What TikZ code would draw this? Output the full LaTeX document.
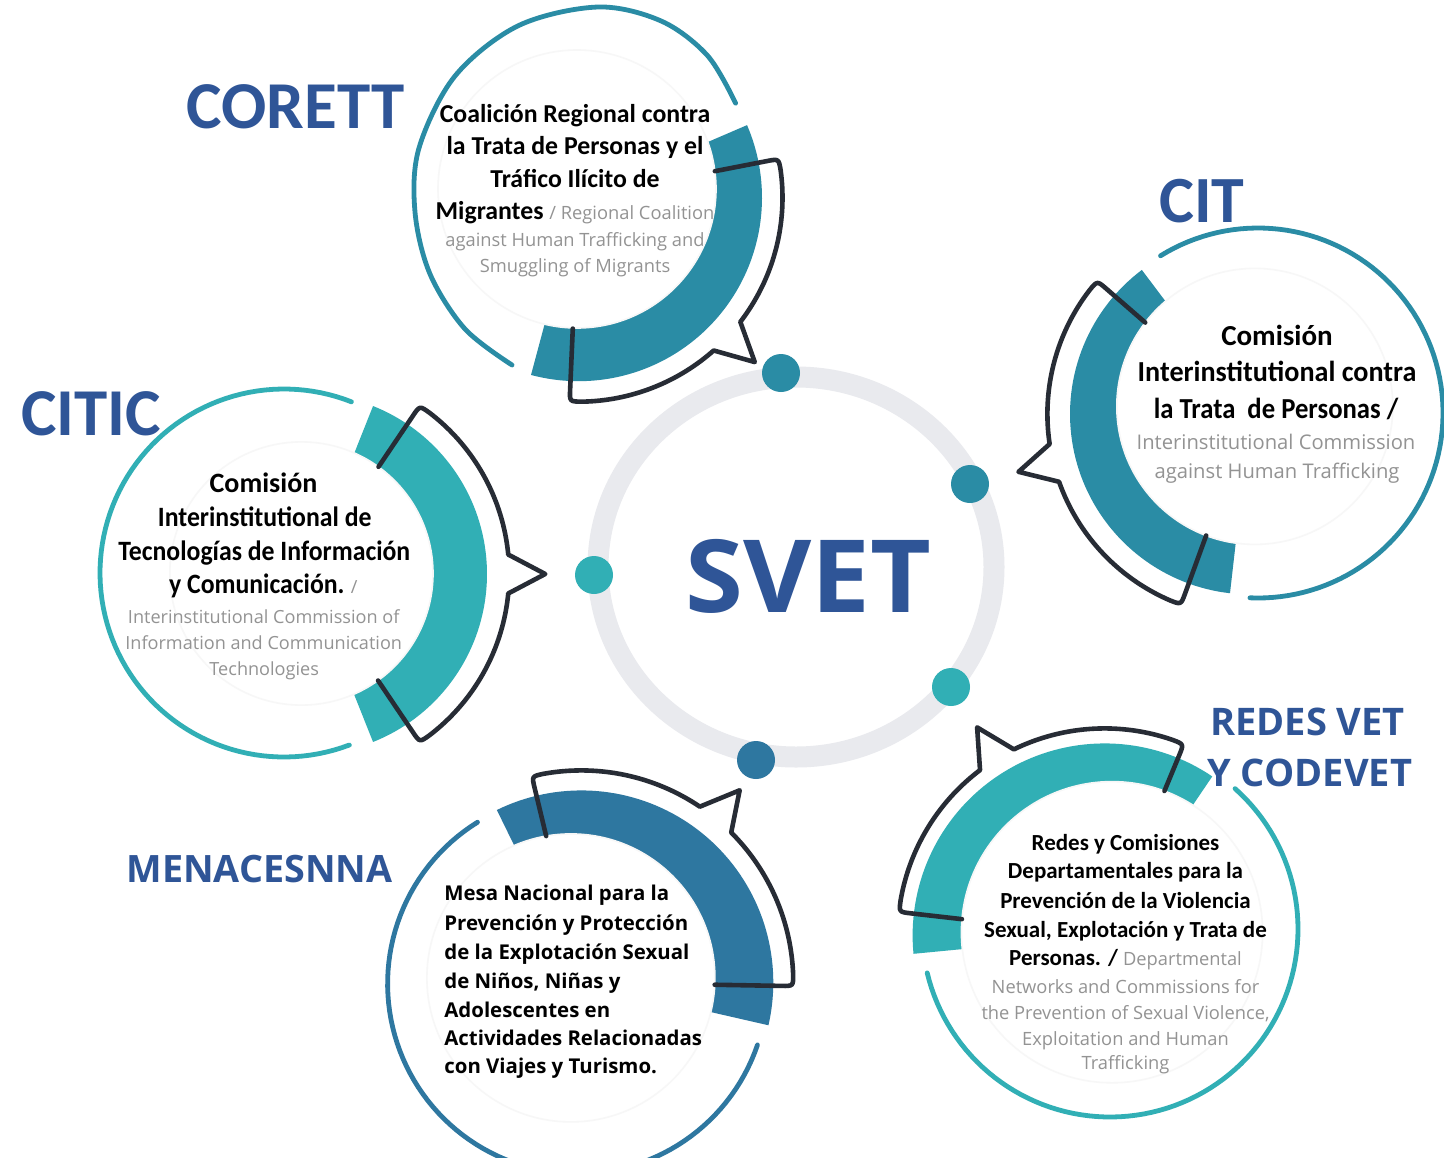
\documentclass[tikz,border=0pt]{standalone}
\usepackage{fontspec}
\usepackage{graphicx}
\setmainfont{Carlito}
\newfontfamily\osans{Open Sans}

\definecolor{tealA}{HTML}{2A8CA5}
\definecolor{tealB}{HTML}{31AFB5}
\definecolor{steel}{HTML}{2E77A0}
\definecolor{ink}{HTML}{272C35}
\definecolor{ringgray}{HTML}{E9EAEE}
\definecolor{titleblue}{HTML}{2F5597}
\definecolor{softgray}{HTML}{939393}

% font set-ups for the body texts
\newcommand{\fCorB}{\normalfont\fontsize{12.9}{15}\selectfont\bfseries}
\newcommand{\fCorG}{\normalfont\osans\fontsize{9.15}{11}\selectfont\color{softgray}}
\newcommand{\fCitB}{\normalfont\fontsize{14.5}{17}\selectfont\bfseries}
\newcommand{\fCitG}{\normalfont\osans\fontsize{10.1}{12}\selectfont\color{softgray}}
\newcommand{\fTicB}{\normalfont\fontsize{14}{17}\selectfont\bfseries}
\newcommand{\fTicG}{\normalfont\osans\fontsize{9.05}{11}\selectfont\color{softgray}}
\newcommand{\fMenB}{\normalfont\osans\fontsize{10.2}{12}\selectfont\bfseries}
\newcommand{\fRedB}{\normalfont\fontsize{11.5}{14}\selectfont\bfseries}
\newcommand{\fRedG}{\normalfont\osans\fontsize{9.15}{11}\selectfont\color{softgray}}

% filled sector: colour, cx, cy, radius, start angle, end angle
\newcommand{\ringsector}[6]{%
  \fill[#1] (#2,#3) -- plot[domain=#5:#6, samples=72] ({#2+#4*cos(\x)},{#3-#4*sin(\x)}) -- cycle;}
% thin circular arc: colour, cx, cy, radius, start angle, end angle
\newcommand{\ringarc}[6]{%
  \draw[thinarc,#1] plot[domain=#5:#6, samples=90] ({#2+#4*cos(\x)},{#3-#4*sin(\x)});}
% speech-bubble outline: cx, cy, inner radius (first end), bubble radius,
% first angle, pointer angle, last angle, pointer tip radius, inner radius (last end)
\newcommand{\speechoutline}[9]{%
  \pgfmathsetmacro{\sgn}{(#7>#5)?1:-1}%
  \pgfmathsetmacro{\dl}{12/#4*180/pi}%
  \pgfmathsetmacro{\aA}{#5+(\sgn)*\dl}%
  \pgfmathsetmacro{\aB}{#6-(\sgn)*5.5}%
  \pgfmathsetmacro{\aC}{#6+(\sgn)*5.5}%
  \pgfmathsetmacro{\aD}{#7-(\sgn)*\dl}%
  \pgfmathsetmacro{\Rc}{#4-12}%
  \draw[bubble] ({#1+#3*cos(#5)},{#2-#3*sin(#5)})
    -- ({#1+\Rc*cos(#5)},{#2-\Rc*sin(#5)})
    .. controls ({#1+#4*cos(#5)},{#2-#4*sin(#5)}) .. ({#1+#4*cos(\aA)},{#2-#4*sin(\aA)})
    -- plot[domain=\aA:\aB, samples=40] ({#1+#4*cos(\x)},{#2-#4*sin(\x)})
    -- ({#1+#8*cos(#6)},{#2-#8*sin(#6)})
    -- plot[domain=\aC:\aD, samples=40] ({#1+#4*cos(\x)},{#2-#4*sin(\x)})
    .. controls ({#1+#4*cos(#7)},{#2-#4*sin(#7)}) .. ({#1+\Rc*cos(#7)},{#2-\Rc*sin(#7)})
    -- ({#1+#9*cos(#7)},{#2-#9*sin(#7)});}

\begin{document}
\begin{tikzpicture}[x=0.5pt,y=-0.5pt,
  thinarc/.style={line width=2.4pt, line cap=round},
  bubble/.style={draw=ink, line width=2.3pt, line join=round, line cap=round},
  disk/.style={circle, fill=white, draw=black!3, line width=0.8pt, inner sep=0pt},
  svdot/.style={circle, inner sep=0pt, minimum size=19pt},
  lbl/.style={inner sep=0pt, anchor=base, text=titleblue},
  txt/.style={inner sep=0pt, anchor=base, text=black},
  txtl/.style={inner sep=0pt, anchor=base west, text=black}]

\useasboundingbox (0,0) rectangle (1444,1157);
\fill[white] (0,0) rectangle (1444,1157);

% central ring
\draw[ringgray, line width=10.5pt] (796,567) ellipse[x radius=198, y radius=190];

% ---------- CORETT ----------
\ringsector{tealA}{578.5}{197.7}{183.5}{-105}{23.3}
\node[disk, minimum size=139pt] (corett-disk) at (577,189) {};
\draw[thinarc, tealA] plot[smooth, tension=0.55] coordinates {(512,365) (465,329) (430,274) (415,212) (419,148) (455,76) (518.5,25.6) (598,7) (661.6,21.2) (707.6,55.7) (735.6,103.2)};
\speechoutline{578.5}{197.7}{138.9}{204}{11}{-43}{-92.5}{241}{131}

% ---------- CIT ----------
\ringsector{tealA}{1250.4}{414}{180.4}{127}{263.5}
\node[disk, minimum size=138pt] (cit-disk) at (1254.8,406.4) {};
\ringarc{tealA}{1258}{413}{185}{121.8}{-92.5}
\speechoutline{1250.4}{414}{139.4}{203}{139}{194}{250}{239}{129.3}

% ---------- CITIC ----------
\ringsector{tealB}{306.2}{574}{180.8}{-68.3}{68.3}
\node[disk, minimum size=131.6pt] (citic-disk) at (301.4,573.5) {};
\ringarc{tealB}{284}{573}{184}{68.5}{290.8}
\speechoutline{306.2}{574}{129.3}{203}{56}{0}{-56}{239}{128.5}

% ---------- MENACESNNA ----------
\ringsector{steel}{581.3}{982.4}{192}{-12.9}{116.1}
\node[disk, minimum size=144pt] (mena-disk) at (570.9,977.9) {};
\ringarc{steel}{577.6}{983.7}{190}{121.8}{341.2}
\speechoutline{581.3}{982.4}{150.5}{212}{103.5}{50.5}{-1}{249}{133.4}

% ---------- REDES VET / CODEVET ----------
\ringsector{tealB}{1104.6}{935.4}{192}{55.9}{185.5}
\node[disk, minimum size=150.6pt] (redes-disk) at (1112,932.2) {};
\ringarc{tealB}{1110}{929}{188}{48.3}{-166.5}
\speechoutline{1104.6}{935.4}{156.3}{207}{67.5}{121.5}{173.5}{244}{143.6}

% dots on the central ring
\node[svdot, fill=tealA] (dot-corett) at (781,373) {};
\node[svdot, fill=tealA] (dot-cit) at (970,484) {};
\node[svdot, fill=tealB] (dot-citic) at (594,575) {};
\node[svdot, fill=tealB] (dot-redes) at (951,687) {};
\node[svdot, fill=steel] (dot-mena) at (756,760) {};

% centre title
\node[lbl, font=\osans\bfseries\fontsize{50.5}{60}\selectfont] (svet) at (808,612) {\scalebox{1.04}[1]{SVET}};

% group titles
\node[lbl, font=\bfseries\fontsize{33.5}{40}\selectfont] (t-corett) at (295.5,128) {CORETT};
\node[lbl, font=\bfseries\fontsize{33}{40}\selectfont] (t-cit) at (1202,222) {CIT};
\node[lbl, font=\bfseries\fontsize{33.5}{40}\selectfont] (t-citic) at (91,435) {CITIC};
\node[lbl, font=\osans\bfseries\fontsize{18.85}{22}\selectfont] (t-mena) at (259.5,882) {MENACESNNA};
\node[lbl, anchor=base west, font=\osans\bfseries\fontsize{19}{22}\selectfont] (t-redes1) at (1210,735) {REDES VET};
\node[lbl, anchor=base west, font=\osans\bfseries\fontsize{19}{22}\selectfont] (t-redes2) at (1207,786) {Y CODEVET};

% CORETT text
\node[txt] (corett-1) at (575,122) {\fCorB Coalición Regional contra};
\node[txt] (corett-2) at (575,154) {\fCorB la Trata de Personas y el};
\node[txt] (corett-3) at (575,187) {\fCorB Tráfico Ilícito de};
\node[txt] (corett-4) at (575,219) {\fCorB Migrantes {\fCorG / Regional Coalition}};
\node[txt] (corett-5) at (575,246) {\fCorG against Human Trafficking and};
\node[txt] (corett-6) at (575,272) {\fCorG Smuggling of Migrants};

% CIT text
\node[txt] (cit-1) at (1277,345) {\fCitB Comisión};
\node[txt] (cit-2) at (1277,381) {\fCitB\scalebox{0.97}[1]{Interinstitutional contra}};
\node[txt] (cit-3) at (1276,418) {\fCitB\scalebox{0.92}[1]{la Trata\ \ de Personas /}};
\node[txt] (cit-4) at (1276,449) {\fCitG Interinstitutional Commission};
\node[txt] (cit-5) at (1277,478) {\fCitG against Human Trafficking};

% CITIC text
\node[txt] (citic-1) at (263.5,492) {\fTicB Comisión};
\node[txt] (citic-2) at (264.7,526) {\fTicB\scalebox{0.92}[1]{Interinstitutional de}};
\node[txt] (citic-3) at (264.3,560) {\fTicB\scalebox{0.92}[1]{Tecnologías de Información}};
\node[txt] (citic-4) at (263.3,593) {\fTicB\scalebox{0.92}[1]{y Comunicación.} {\fTicG /}};
\node[txt] (citic-5) at (263.7,623) {\fTicG Interinstitutional Commission of};
\node[txt] (citic-6) at (263.7,649) {\fTicG Information and Communication};
\node[txt] (citic-7) at (264.2,675) {\fTicG Technologies};

% MENACESNNA text
\node[txtl] (mena-1) at (444,900) {\fMenB Mesa Nacional para la};
\node[txtl] (mena-2) at (444,930) {\fMenB Prevención y Protección};
\node[txtl] (mena-3) at (444,959) {\fMenB de la Explotación Sexual};
\node[txtl] (mena-4) at (444,988) {\fMenB de Niños, Niñas y};
\node[txtl] (mena-5) at (444,1017) {\fMenB Adolescentes en};
\node[txtl] (mena-6) at (444,1045) {\fMenB Actividades Relacionadas};
\node[txtl] (mena-7) at (444,1073) {\fMenB con Viajes y Turismo.};

% REDES text
\node[txt] (redes-1) at (1125.5,850) {\fRedB Redes y Comisiones};
\node[txt] (redes-2) at (1125.5,878) {\fRedB Departamentales para la};
\node[txt] (redes-3) at (1125.5,908) {\fRedB Prevención de la Violencia};
\node[txt] (redes-4) at (1125.5,937) {\fRedB Sexual, Explotación y Trata de};
\node[txt] (redes-5) at (1125.5,965) {\fRedB Personas. / {\fRedG Departmental}};
\node[txt] (redes-6) at (1125.5,993) {\fRedG Networks and Commissions for};
\node[txt] (redes-7) at (1125.5,1019) {\fRedG the Prevention of Sexual Violence,};
\node[txt] (redes-8) at (1125.5,1045) {\fRedG Exploitation and Human};
\node[txt] (redes-9) at (1125.5,1069) {\fRedG Trafficking};

\end{tikzpicture}
\end{document}
